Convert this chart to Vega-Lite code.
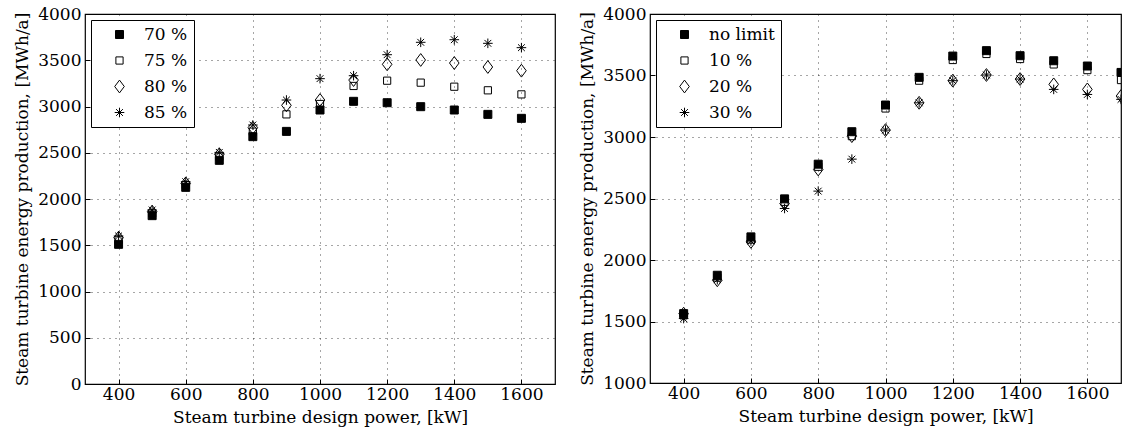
{
  "$schema": "https://vega.github.io/schema/vega-lite/v6.json",
  "padding": {"left": 13, "top": 4, "right": 2, "bottom": 2},
  "background": "white",
  "config": {
    "font": "DejaVu Serif",
    "view": {"stroke": "black", "strokeWidth": 1.2},
    "axis": {
      "labelFont": "DejaVu Serif", "titleFont": "DejaVu Serif",
      "labelFontSize": 17, "titleFontSize": 17, "titleFontWeight": "normal",
      "labelColor": "black", "titleColor": "black",
      "domain": false,
      "tickColor": "black", "tickSize": -5, "labelPadding": 9,
      "gridColor": "#000", "gridDash": [1, 5], "gridOpacity": 0.7, "gridWidth": 1
    },
    "axisX": {"labelPadding": 7, "titlePadding": 7},
    "legend": {
      "labelFont": "DejaVu Serif", "labelFontSize": 17, "labelColor": "black",
      "strokeColor": "black", "fillColor": "white", "padding": 6,
      "orient": "top-left", "offset": 6, "symbolOffset": 14, "labelOffset": 16,
      "rowPadding": 8, "symbolStrokeColor": "black", "symbolStrokeWidth": 1, "symbolSize": 64,
      "labelExpr": "datum.label + '\u2003'"
    }
  },
  "datasets": {
    "left": [
      {"power": 400, "energy": 1510, "series": "70 %"},
      {"power": 500, "energy": 1820, "series": "70 %"},
      {"power": 600, "energy": 2126, "series": "70 %"},
      {"power": 700, "energy": 2418, "series": "70 %"},
      {"power": 800, "energy": 2674, "series": "70 %"},
      {"power": 900, "energy": 2731, "series": "70 %"},
      {"power": 1000, "energy": 2962, "series": "70 %"},
      {"power": 1100, "energy": 3056, "series": "70 %"},
      {"power": 1200, "energy": 3041, "series": "70 %"},
      {"power": 1300, "energy": 2998, "series": "70 %"},
      {"power": 1400, "energy": 2962, "series": "70 %"},
      {"power": 1500, "energy": 2915, "series": "70 %"},
      {"power": 1600, "energy": 2872, "series": "70 %"},
      {"power": 400, "energy": 1560, "series": "75 %"},
      {"power": 500, "energy": 1845, "series": "75 %"},
      {"power": 600, "energy": 2151, "series": "75 %"},
      {"power": 700, "energy": 2457, "series": "75 %"},
      {"power": 800, "energy": 2728, "series": "75 %"},
      {"power": 900, "energy": 2915, "series": "75 %"},
      {"power": 1000, "energy": 3027, "series": "75 %"},
      {"power": 1100, "energy": 3222, "series": "75 %"},
      {"power": 1200, "energy": 3279, "series": "75 %"},
      {"power": 1300, "energy": 3258, "series": "75 %"},
      {"power": 1400, "energy": 3214, "series": "75 %"},
      {"power": 1500, "energy": 3175, "series": "75 %"},
      {"power": 1600, "energy": 3131, "series": "75 %"},
      {"power": 400, "energy": 1582, "series": "80 %"},
      {"power": 500, "energy": 1863, "series": "80 %"},
      {"power": 600, "energy": 2169, "series": "80 %"},
      {"power": 700, "energy": 2483, "series": "80 %"},
      {"power": 800, "energy": 2771, "series": "80 %"},
      {"power": 900, "energy": 3013, "series": "80 %"},
      {"power": 1000, "energy": 3070, "series": "80 %"},
      {"power": 1100, "energy": 3286, "series": "80 %"},
      {"power": 1200, "energy": 3456, "series": "80 %"},
      {"power": 1300, "energy": 3503, "series": "80 %"},
      {"power": 1400, "energy": 3470, "series": "80 %"},
      {"power": 1500, "energy": 3427, "series": "80 %"},
      {"power": 1600, "energy": 3387, "series": "80 %"},
      {"power": 400, "energy": 1600, "series": "85 %"},
      {"power": 500, "energy": 1881, "series": "85 %"},
      {"power": 600, "energy": 2187, "series": "85 %"},
      {"power": 700, "energy": 2504, "series": "85 %"},
      {"power": 800, "energy": 2800, "series": "85 %"},
      {"power": 900, "energy": 3070, "series": "85 %"},
      {"power": 1000, "energy": 3301, "series": "85 %"},
      {"power": 1100, "energy": 3333, "series": "85 %"},
      {"power": 1200, "energy": 3560, "series": "85 %"},
      {"power": 1300, "energy": 3694, "series": "85 %"},
      {"power": 1400, "energy": 3722, "series": "85 %"},
      {"power": 1500, "energy": 3683, "series": "85 %"},
      {"power": 1600, "energy": 3636, "series": "85 %"}
    ],
    "right": [
      {"power": 400, "energy": 1564, "series": "no limit"},
      {"power": 500, "energy": 1876, "series": "no limit"},
      {"power": 600, "energy": 2188, "series": "no limit"},
      {"power": 700, "energy": 2497, "series": "no limit"},
      {"power": 800, "energy": 2779, "series": "no limit"},
      {"power": 900, "energy": 3043, "series": "no limit"},
      {"power": 1000, "energy": 3260, "series": "no limit"},
      {"power": 1100, "energy": 3485, "series": "no limit"},
      {"power": 1200, "energy": 3658, "series": "no limit"},
      {"power": 1300, "energy": 3702, "series": "no limit"},
      {"power": 1400, "energy": 3661, "series": "no limit"},
      {"power": 1500, "energy": 3620, "series": "no limit"},
      {"power": 1600, "energy": 3577, "series": "no limit"},
      {"power": 1700, "energy": 3525, "series": "no limit"},
      {"power": 400, "energy": 1550, "series": "10 %"},
      {"power": 500, "energy": 1857, "series": "10 %"},
      {"power": 600, "energy": 2166, "series": "10 %"},
      {"power": 700, "energy": 2473, "series": "10 %"},
      {"power": 800, "energy": 2758, "series": "10 %"},
      {"power": 900, "energy": 3007, "series": "10 %"},
      {"power": 1000, "energy": 3232, "series": "10 %"},
      {"power": 1100, "energy": 3458, "series": "10 %"},
      {"power": 1200, "energy": 3626, "series": "10 %"},
      {"power": 1300, "energy": 3675, "series": "10 %"},
      {"power": 1400, "energy": 3634, "series": "10 %"},
      {"power": 1500, "energy": 3590, "series": "10 %"},
      {"power": 1600, "energy": 3544, "series": "10 %"},
      {"power": 1700, "energy": 3463, "series": "10 %"},
      {"power": 400, "energy": 1564, "series": "20 %"},
      {"power": 500, "energy": 1835, "series": "20 %"},
      {"power": 600, "energy": 2147, "series": "20 %"},
      {"power": 700, "energy": 2459, "series": "20 %"},
      {"power": 800, "energy": 2736, "series": "20 %"},
      {"power": 900, "energy": 3007, "series": "20 %"},
      {"power": 1000, "energy": 3056, "series": "20 %"},
      {"power": 1100, "energy": 3278, "series": "20 %"},
      {"power": 1200, "energy": 3458, "series": "20 %"},
      {"power": 1300, "energy": 3504, "series": "20 %"},
      {"power": 1400, "energy": 3471, "series": "20 %"},
      {"power": 1500, "energy": 3428, "series": "20 %"},
      {"power": 1600, "energy": 3387, "series": "20 %"},
      {"power": 1700, "energy": 3333, "series": "20 %"},
      {"power": 400, "energy": 1524, "series": "30 %"},
      {"power": 500, "energy": 1840, "series": "30 %"},
      {"power": 600, "energy": 2155, "series": "30 %"},
      {"power": 700, "energy": 2419, "series": "30 %"},
      {"power": 800, "energy": 2560, "series": "30 %"},
      {"power": 900, "energy": 2820, "series": "30 %"},
      {"power": 1000, "energy": 3056, "series": "30 %"},
      {"power": 1100, "energy": 3278, "series": "30 %"},
      {"power": 1200, "energy": 3458, "series": "30 %"},
      {"power": 1300, "energy": 3504, "series": "30 %"},
      {"power": 1400, "energy": 3471, "series": "30 %"},
      {"power": 1500, "energy": 3387, "series": "30 %"},
      {"power": 1600, "energy": 3346, "series": "30 %"},
      {"power": 1700, "energy": 3306, "series": "30 %"}
    ]
  },
  "spacing": 22,
  "resolve": {
    "scale": {"shape": "independent", "fill": "independent", "stroke": "independent", "x": "independent", "y": "independent"},
    "legend": {"shape": "independent", "fill": "independent", "stroke": "independent"}
  },
  "hconcat": [
    {
      "width": 470, "height": 370,
      "data": {"name": "left"},
      "mark": {"type": "point", "filled": false, "strokeWidth": 1, "size": 64, "opacity": 1},
      "encoding": {
        "x": {"field": "power", "type": "quantitative", "scale": {"domain": [300, 1700], "nice": false, "zero": false},
              "axis": {"values": [400, 600, 800, 1000, 1200, 1400, 1600], "title": "Steam turbine design power, [kW]", "format": "d"}},
        "y": {"field": "energy", "type": "quantitative", "scale": {"domain": [0, 4000], "nice": false},
              "axis": {"values": [0, 500, 1000, 1500, 2000, 2500, 3000, 3500, 4000], "title": "Steam turbine energy production, [MWh/a]", "format": "d", "titlePadding": 6}},
        "shape": {"field": "series", "type": "nominal",
                  "scale": {"domain": ["70 %", "75 %", "80 %", "85 %"],
                            "range": ["M-1,-1H1V1H-1Z", "M-0.9,-0.9H0.9V0.9H-0.9Z", "M0,-1.6L1.2,0L0,1.6L-1.2,0Z", "M0,-1.2V1.2M-1.2,0H1.2M-0.85,-0.85L0.85,0.85M-0.85,0.85L0.85,-0.85"]},
                  "legend": {"title": null}},
        "fill": {"field": "series", "type": "nominal",
                 "scale": {"domain": ["70 %", "75 %", "80 %", "85 %"], "range": ["black", "transparent", "transparent", "transparent"]},
                 "legend": {"title": null}},
        "stroke": {"field": "series", "type": "nominal",
                 "scale": {"domain": ["70 %", "75 %", "80 %", "85 %"], "range": ["black", "black", "black", "black"]},
                 "legend": {"title": null}}
      }
    },
    {
      "width": 471, "height": 369,
      "data": {"name": "right"},
      "mark": {"type": "point", "filled": false, "strokeWidth": 1, "size": 64, "opacity": 1, "clip": true},
      "encoding": {
        "x": {"field": "power", "type": "quantitative", "scale": {"domain": [300, 1700], "nice": false, "zero": false},
              "axis": {"values": [400, 600, 800, 1000, 1200, 1400, 1600], "title": "Steam turbine design power, [kW]", "format": "d"}},
        "y": {"field": "energy", "type": "quantitative", "scale": {"domain": [1000, 4000], "nice": false, "zero": false},
              "axis": {"values": [1000, 1500, 2000, 2500, 3000, 3500, 4000], "title": "Steam turbine energy production, [MWh/a]", "format": "d", "titlePadding": 6}},
        "shape": {"field": "series", "type": "nominal",
                  "scale": {"domain": ["no limit", "10 %", "20 %", "30 %"],
                            "range": ["M-1,-1H1V1H-1Z", "M-0.9,-0.9H0.9V0.9H-0.9Z", "M0,-1.6L1.2,0L0,1.6L-1.2,0Z", "M0,-1.2V1.2M-1.2,0H1.2M-0.85,-0.85L0.85,0.85M-0.85,0.85L0.85,-0.85"]},
                  "legend": {"title": null}},
        "fill": {"field": "series", "type": "nominal",
                 "scale": {"domain": ["no limit", "10 %", "20 %", "30 %"], "range": ["black", "transparent", "transparent", "transparent"]},
                 "legend": {"title": null}},
        "stroke": {"field": "series", "type": "nominal",
                 "scale": {"domain": ["no limit", "10 %", "20 %", "30 %"], "range": ["black", "black", "black", "black"]},
                 "legend": {"title": null}}
      }
    }
  ]
}
